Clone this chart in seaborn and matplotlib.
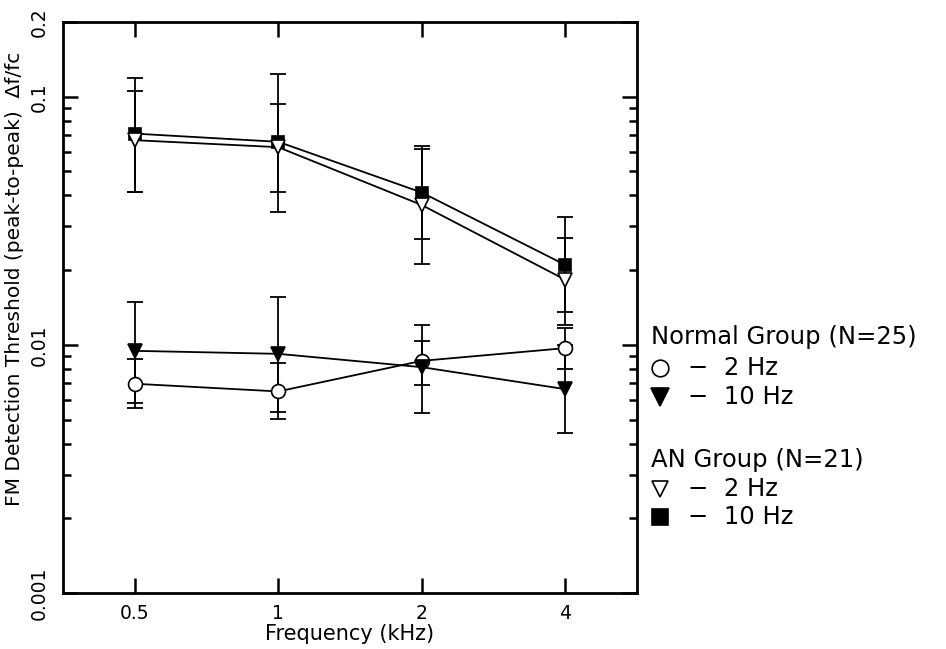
import numpy as np
import pandas as pd
import seaborn as sns
import matplotlib.pyplot as plt
from matplotlib.lines import Line2D
from matplotlib.ticker import FixedLocator, NullLocator, LogLocator, NullFormatter

# frequency (kHz)
freq = [0.5, 1, 2, 4]

# AN group, 10 Hz (filled squares)
an10 = [0.071, 0.0658, 0.0411, 0.0210]
an10_lo = [0.0414, 0.0343, 0.0267, 0.0136]
an10_hi = [0.1195, 0.124, 0.0632, 0.0326]

# AN group, 2 Hz (open down triangles)
an2 = [0.0668, 0.0626, 0.0366, 0.0183]
an2_lo = [0.0413, 0.0413, 0.0212, 0.0120]
an2_hi = [0.105, 0.0933, 0.0615, 0.0270]

# Normal group, 2 Hz (open circles)
nh2 = [0.00697, 0.00649, 0.00862, 0.00970]
nh2_lo = [0.00558, 0.00502, 0.00690, 0.00800]
nh2_hi = [0.00878, 0.00844, 0.01041, 0.01167]

# Normal group, 10 Hz (filled down triangles)
nh10 = [0.00946, 0.00920, 0.00813, 0.00663]
nh10_lo = [0.00583, 0.00534, 0.00531, 0.00441]
nh10_hi = [0.01493, 0.01556, 0.01204, 0.0100]

sns.set_style("ticks")
plt.rcParams['font.family'] = ['DejaVu Sans']
plt.rcParams.update({'text.color': 'black', 'axes.labelcolor': 'black',
                     'xtick.color': 'black', 'ytick.color': 'black'})

W, H = 946, 649
fig = plt.figure(figsize=(W / 100, H / 100), dpi=100)
ax = fig.add_axes([63 / W, 1 - 593 / H, (637 - 63) / W, (593 - 22) / H])

series = [
    (an10, an10_lo, an10_hi, 's', 'black', 8.5),
    (an2, an2_lo, an2_hi, 'v', 'white', 10),
    (nh2, nh2_lo, nh2_hi, 'o', 'white', 10),
    (nh10, nh10_lo, nh10_hi, 'v', 'black', 10),
]

for vals, lo, hi, mk, fc, ms in series:
    df = pd.DataFrame({'freq': freq, 'thr': vals})
    yerr = [np.array(vals) - np.array(lo), np.array(hi) - np.array(vals)]
    ax.errorbar(freq, vals, yerr=yerr, fmt='none', ecolor='black',
                elinewidth=1.3, capsize=5.5, capthick=1.3, zorder=2)
    sns.lineplot(data=df, x='freq', y='thr', ax=ax, color='black', lw=1.3,
                 marker=mk, markersize=ms, markerfacecolor=fc,
                 markeredgecolor='black', markeredgewidth=1.2, zorder=3)

ax.set_xscale('log', base=2)
ax.set_yscale('log')
ax.set_xlim(0.5 / 2 ** 0.5, 4 * 2 ** 0.5)
ax.set_ylim(0.001, 0.2)

ax.xaxis.set_major_locator(FixedLocator(freq))
ax.xaxis.set_minor_locator(NullLocator())
ax.set_xticklabels(['0.5', '1', '2', '4'])
ax.yaxis.set_major_locator(FixedLocator([0.001, 0.01, 0.1, 0.2]))
ax.yaxis.set_minor_locator(LogLocator(base=10, subs=np.arange(2, 10), numticks=20))
ax.yaxis.set_minor_formatter(NullFormatter())
ax.set_yticklabels(['0.001', '0.01', '0.1', '0.2'], rotation=90, va='center')

ax.tick_params(which='both', direction='in', top=True, right=True,
               left=True, bottom=True, width=1.8, color='black', labelsize=13.5)
ax.tick_params(which='major', length=11)
ax.tick_params(which='minor', length=6)
ax.tick_params(axis='x', pad=8)
ax.tick_params(axis='y', pad=10)
for sp in ax.spines.values():
    sp.set_linewidth(2)
    sp.set_color('black')

ax.set_xlabel('Frequency (kHz)', fontsize=15, labelpad=1)
ax.set_ylabel('FM Detection Threshold (peak-to-peak)  \u0394f/fc', fontsize=14.5)
ax.yaxis.set_label_coords(-0.068, 0.55)

# legend block on the right
fs = 17.5
def fx(px):
    return px / W
def fy(py):
    return 1 - py / H

fig.text(fx(651), fy(337), 'Normal Group (N=25)', fontsize=fs, va='center')
fig.text(fx(651), fy(460), 'AN Group (N=21)', fontsize=fs, va='center')
rows = [
    (368, 'o', 'white', 12, '\u2212  2 Hz'),
    (397, 'v', 'black', 13, '\u2212  10 Hz'),
    (489, 'v', 'white', 12, '\u2212  2 Hz'),
    (517, 's', 'black', 12, '\u2212  10 Hz'),
]
for py, mk, fc, ms, txt in rows:
    fig.add_artist(Line2D([fx(660)], [fy(py)], transform=fig.transFigure,
                          marker=mk, markersize=ms, markerfacecolor=fc,
                          markeredgecolor='black', markeredgewidth=1.2, ls='none'))
    fig.text(fx(688), fy(py), txt, fontsize=fs, va='center')

fig.savefig('out.png', dpi=100)
